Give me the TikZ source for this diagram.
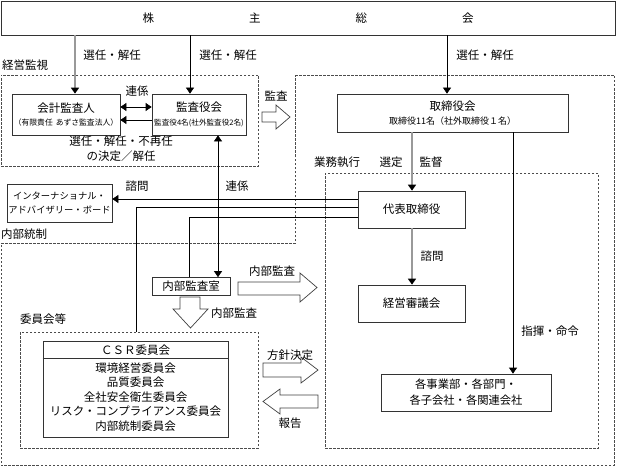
\documentclass[tikz,border=0pt]{standalone}
\usepackage{fontspec}
\setmainfont{Noto Sans CJK JP}
\usetikzlibrary{arrows.meta}

\tikzset{
  box/.style={draw=black!80, line width=0.7pt, align=center, inner sep=0pt, font=\fontsize{11.5}{14.5}\selectfont},
  zone/.style={draw=black!70, dash pattern=on 2.5pt off 1.5pt, line width=0.6pt},
  lbl/.style={inner sep=1pt, align=center, font=\fontsize{11.5}{15}\selectfont},
  arr/.style={line width=0.7pt, -{Triangle[length=6pt,width=8pt]}},
  garr/.style={draw=black!40, line width=1.6pt, -{Triangle[length=6pt,width=8pt,color=black]}},
  dblarr/.style={line width=0.7pt, {Triangle[length=6pt,width=8pt]}-{Triangle[length=6pt,width=8pt]}},
  hollow/.style={draw=black!75, line width=0.7pt, fill=white}
}

\begin{document}
\begin{tikzpicture}[x=1pt,y=1pt,yscale=-1,xscale=1]
\useasboundingbox (0,0) rectangle (617,468);

%Dashed zones
\node[zone, minimum width=257, minimum height=91] (kanshi) at (129.5,120.5) {};
\draw[zone] (295,75) -- (614,75) -- (614,465) -- (1,465) -- (1,243) -- (295,243) -- cycle;
\node[zone, minimum width=273, minimum height=275] (gyomu) at (461.5,310.5) {};
\node[zone, minimum width=238, minimum height=116] (iinkai) at (139,390) {};

%Boxes
\node[box, minimum width=614, minimum height=34] (soukai) at (308,18) {株\hspace{95pt}主\hspace{95pt}総\hspace{95pt}会};
\node[box, minimum width=108, minimum height=41] (kaikei) at (66,114.5) {会計監査人\\[-1pt]{\fontsize{7.8}{9}\selectfont （有限責任\hspace{3pt}あずさ監査法人）}};
\node[box, minimum width=94, minimum height=41] (kansa) at (199,114.5) {監査役会\\[-1pt]{\fontsize{7.6}{9}\selectfont 監査役4名(社外監査役2名)}};
\node[box, minimum width=231, minimum height=38] (torishimari) at (452.5,113) {取締役会\\[-1pt]{\fontsize{9}{11}\selectfont 取締役11名（社外取締役１名）}};
\node[box, minimum width=107, minimum height=37] (daihyo) at (411.5,209.5) {代表取締役};
\node[box, minimum width=107, minimum height=37] (shingi) at (411.5,303.5) {経営審議会};
\node[box, minimum width=170, minimum height=37, font=\fontsize{11.3}{16}\selectfont] (jigyo) at (466,392.5) {各事業部・各部門・\\各子会社・各関連会社};
\node[box, minimum width=105, minimum height=38, font=\fontsize{9.3}{14}\selectfont] (advisory) at (59.5,203) {インターナショナル・\\アドバイザリー・ボード};
\node[box, minimum width=78, minimum height=18] (kansashitsu) at (191,286.5) {内部監査室};
\node[box, minimum width=185, minimum height=96] (csr) at (135.5,389) {};
\coordinate (csrline) at (0,358);
\draw[draw=black!80, line width=0.7pt] (csr.west |- csrline) -- (csr.east |- csrline);
\node[lbl] (csrtitle) at (135.5,350) {ＣＳＲ委員会};
\node[lbl, font=\fontsize{11.5}{14.5}\selectfont] (csrlist) at (135.5,397) {環境経営委員会\\品質委員会\\全社安全衛生委員会\\リスク・コンプライアンス委員会\\内部統制委員会};

%Connector positions
\coordinate (xa) at (75,0);
\coordinate (xb) at (190,0);
\coordinate (xc) at (447,0);
\coordinate (xd) at (218,0);
\coordinate (xe) at (412,0);
\coordinate (xf) at (513,0);
\coordinate (xg) at (136,0);
\coordinate (xh) at (189,0);
\coordinate (ya) at (0,107);
\coordinate (yb) at (0,120);
\coordinate (yc) at (0,199);
\coordinate (yd) at (0,207.5);
\coordinate (ye) at (0,217);

%Connectors
\draw[garr] (soukai.south -| xa) -- (kaikei.north -| xa);
\draw[arr] (soukai.south -| xb) -- (kansa.north -| xb);
\draw[arr] (soukai.south -| xc) -- (torishimari.north -| xc);
\draw[dblarr] (kaikei.east |- ya) -- (kansa.west |- ya);
\draw[arr] (kansa.west |- yb) -- (kaikei.east |- yb);
\draw[garr] (torishimari.south -| xe) -- (daihyo.north -| xe);
\draw[arr] (torishimari.south -| xf) -- (jigyo.north -| xf);
\draw[garr] (daihyo.south -| xe) -- (shingi.north -| xe);
\draw[arr] (daihyo.west |- yc) -- (advisory.east |- yc);
\draw[line width=0.7pt] (daihyo.west |- yd) -| (iinkai.north -| xg);
\draw[line width=0.7pt] (daihyo.west |- ye) -| (kansashitsu.north -| xh);
\draw[dblarr] (kansa.south -| xd) -- (kansashitsu.north -| xd);

%Hollow arrows
\draw[hollow] (262,112) -- (276,112) -- (276,105) -- (290,117) -- (276,129) -- (276,122) -- (262,122) -- cycle;
\draw[hollow] (238,282) -- (300,282) -- (300,273) -- (317,287.5) -- (300,302) -- (300,295) -- (238,295) -- cycle;
\draw[hollow] (180,297) -- (180,309) -- (173,309) -- (190.5,328) -- (208,309) -- (200,309) -- (200,297) -- cycle;
\draw[hollow] (263,363) -- (301,363) -- (301,357) -- (318,370) -- (301,383) -- (301,377) -- (263,377) -- cycle;
\draw[hollow] (318,395) -- (280,395) -- (280,389) -- (263,401.5) -- (280,414) -- (280,408) -- (318,408) -- cycle;

%Labels
\node[lbl] (l1) at (112,55) {選任・解任};
\node[lbl] (l2) at (228,55) {選任・解任};
\node[lbl] (l3) at (485,55) {選任・解任};
\node[lbl, anchor=west] (l4) at (1,65) {経営監視};
\node[lbl] (l5) at (137,91) {連係};
\node[lbl] (l6) at (121,149) {選任・解任・不再任\\の決定／解任};
\node[lbl] (l7) at (276,96) {監査};
\node[lbl, anchor=west] (l8) at (313,162) {業務執行};
\node[lbl] (l9) at (391,162) {選定};
\node[lbl] (l10) at (431,162) {監督};
\node[lbl] (l11) at (137,186) {諮問};
\node[lbl] (l12) at (237,186) {連係};
\node[lbl, anchor=west] (l13) at (0,234) {内部統制};
\node[lbl] (l14) at (272,271) {内部監査};
\node[lbl] (l15) at (234,313) {内部監査};
\node[lbl, anchor=west] (l16) at (19,319) {委員会等};
\node[lbl] (l17) at (290,355) {方針決定};
\node[lbl] (l18) at (290,423) {報告};
\node[lbl] (l19) at (432,256) {諮問};
\node[lbl] (l20) at (550,331) {指揮・命令};

\end{tikzpicture}
\end{document}
